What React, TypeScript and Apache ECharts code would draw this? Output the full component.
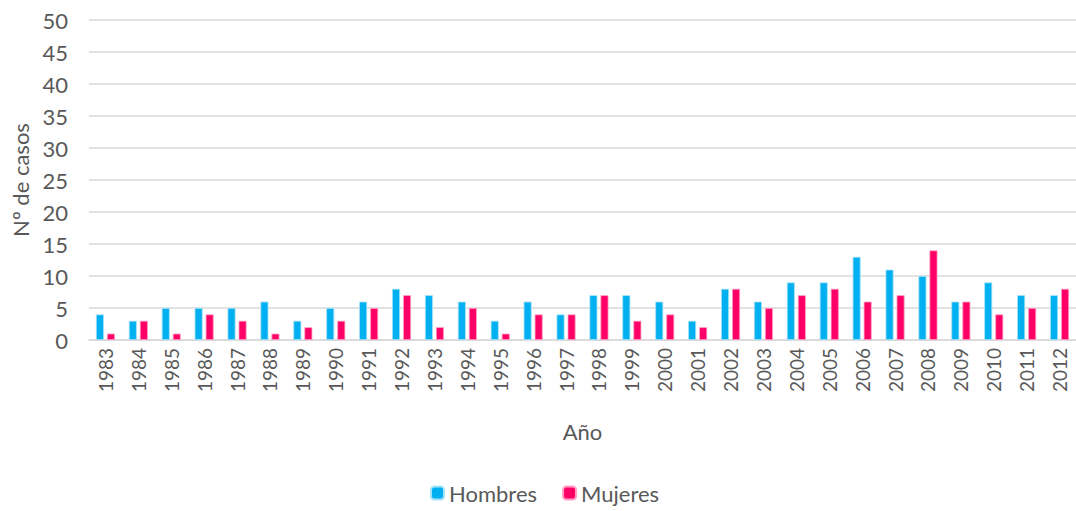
import React, { useEffect, useRef } from "react";
import * as echarts from "echarts";

const years = ["1983","1984","1985","1986","1987","1988","1989","1990","1991","1992","1993","1994","1995","1996","1997","1998","1999","2000","2001","2002","2003","2004","2005","2006","2007","2008","2009","2010","2011","2012"];
const hombres = [4,3,5,5,5,6,3,5,6,8,7,6,3,6,4,7,7,6,3,8,6,9,9,13,11,10,6,9,7,7];
const mujeres = [1,3,1,4,3,1,2,3,5,7,2,5,1,4,4,7,3,4,2,8,5,7,8,6,7,14,6,4,5,8];

const FONT = "Lato, 'Open Sans', sans-serif";
const TXT = "#595959";

export default function App() {
  const ref = useRef<HTMLDivElement>(null);
  useEffect(() => {
    const chart = echarts.init(ref.current!, null, { renderer: "svg" });
    chart.setOption({
      animation: false,
      textStyle: { fontFamily: FONT },
      grid: { left: 89, right: 0, top: 20, bottom: 171, outerBoundsMode: "none", containLabel: false },
      legend: {
        bottom: 2,
        left: 425,
        itemWidth: 13,
        itemHeight: 13,
        itemGap: 25,
        textStyle: { fontFamily: FONT, fontSize: 22, color: TXT },
        data: ["Hombres", "Mujeres"],
      },
      xAxis: {
        type: "category",
        data: years,
        name: "Año",
        nameLocation: "middle",
        nameGap: 80,
        nameTextStyle: { fontFamily: FONT, fontSize: 22, color: TXT },
        axisLine: { lineStyle: { color: "#D9D9D9", width: 1.5 } },
        axisTick: { show: false },
        axisLabel: { rotate: 90, fontSize: 19, color: TXT, fontFamily: FONT, margin: 8, interval: 0 },
      },
      yAxis: {
        type: "value",
        min: 0,
        max: 50,
        interval: 5,
        name: "Nº de casos",
        nameLocation: "middle",
        nameGap: 57,
        nameTextStyle: { fontFamily: FONT, fontSize: 22, color: TXT },
        axisLabel: { fontSize: 22, color: TXT, fontFamily: FONT, margin: 21 },
        splitLine: { lineStyle: { color: "#D9D9D9", width: 1.5 } },
        axisLine: { show: false },
        axisTick: { show: false },
      },
      series: [
        {
          name: "Hombres",
          type: "bar",
          data: hombres,
          barWidth: 8,
          barGap: "38%",
          itemStyle: { color: "#00B0F0", borderColor: "#A8E2F8", borderWidth: 0.8 },
        },
        {
          name: "Mujeres",
          type: "bar",
          data: mujeres,
          barWidth: 8,
          itemStyle: { color: "#FF0066", borderColor: "#FFA0C4", borderWidth: 0.8 },
        },
      ],
    });
    return () => chart.dispose();
  }, []);
  return <div ref={ref} style={{ position: "absolute", left: 0, top: 0, width: 1076, height: 511 }} />;
}
